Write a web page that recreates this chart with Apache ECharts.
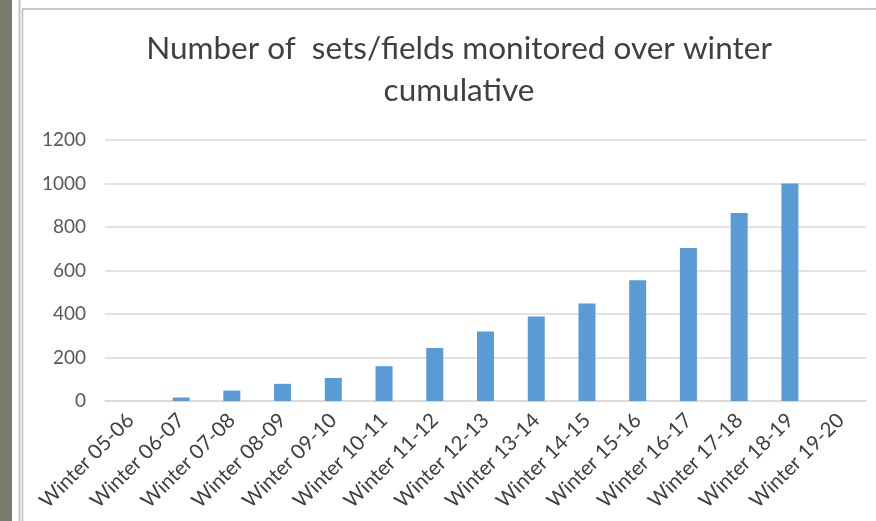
<!DOCTYPE html>
<html>
<head>
<meta charset="utf-8">
<script src="https://cdn.jsdelivr.net/npm/echarts@6/dist/echarts.min.js"></script>
<style>
  html, body { margin: 0; padding: 0; background: #fff; }
  #chart { width: 876px; height: 521px; }
</style>
</head>
<body>
<div id="chart"></div>
<script>
const seasons = ["Winter 05-06", "Winter 06-07", "Winter 07-08", "Winter 08-09", "Winter 09-10",
  "Winter 10-11", "Winter 11-12", "Winter 12-13", "Winter 13-14", "Winter 14-15",
  "Winter 15-16", "Winter 16-17", "Winter 17-18", "Winter 18-19", "Winter 19-20"];
const monitored = [0, 16, 48, 79, 106, 160, 244, 319, 389, 448, 555, 703, 864, 1000, 0];
const yTicks = [0, 200, 400, 600, 800, 1000, 1200];

const chart = echarts.init(document.getElementById("chart"));

const option = {
  backgroundColor: "#fff",
  animation: false,
  textStyle: { fontFamily: "Lato" },
  title: {
    text: "Number of  sets/fields monitored over winter\ncumulative",
    left: 454,
    textAlign: "center",
    top: 23,
    textStyle: {
      fontFamily: "Lato",
      fontSize: 31.5,
      fontWeight: "normal",
      color: "#404040",
      lineHeight: 42,
    },
  },
  graphic: [
    // frame bits around the screenshot
    { type: "rect", shape: { x: 0, y: 0, width: 12, height: 521 }, style: { fill: "#7b7b72" } },
    { type: "line", shape: { x1: 19.5, y1: 0, x2: 19.5, y2: 521 }, style: { stroke: "#c4c4c4", lineWidth: 2 } },
    { type: "line", shape: { x1: 22.5, y1: 9, x2: 22.5, y2: 521 }, style: { stroke: "#bdbdbd", lineWidth: 1.5 } },
    { type: "line", shape: { x1: 22, y1: 9, x2: 876, y2: 9 }, style: { stroke: "#b5b5b5", lineWidth: 1.5 } },
  ],
  grid: {
    left: 105,
    right: 10,
    top: 140,
    bottom: 120,
    containLabel: false,
  },
  xAxis: {
    type: "category",
    data: seasons,
    axisLine: { lineStyle: { color: "#d9d9d9", width: 1.5 } },
    axisTick: { show: false },
    axisLabel: {
      interval: 0,
      rotate: 45,
      margin: 16,
      fontSize: 20.5,
      color: "#404040",
    },
  },
  yAxis: {
    type: "value",
    min: yTicks[0],
    max: yTicks[yTicks.length - 1],
    interval: 200,
    axisLine: { show: false },
    axisTick: { show: false },
    splitLine: { lineStyle: { color: "#d9d9d9", width: 1.5 } },
    axisLabel: {
      fontSize: 19,
      color: "#595959",
      margin: 19,
      formatter: (v) => String(v),
    },
  },
  series: [
    {
      name: "Sets/fields",
      type: "bar",
      data: monitored,
      barWidth: 17,
      itemStyle: { color: "#5b9bd5" },
    },
  ],
};

chart.setOption(option);
</script>
</body>
</html>
